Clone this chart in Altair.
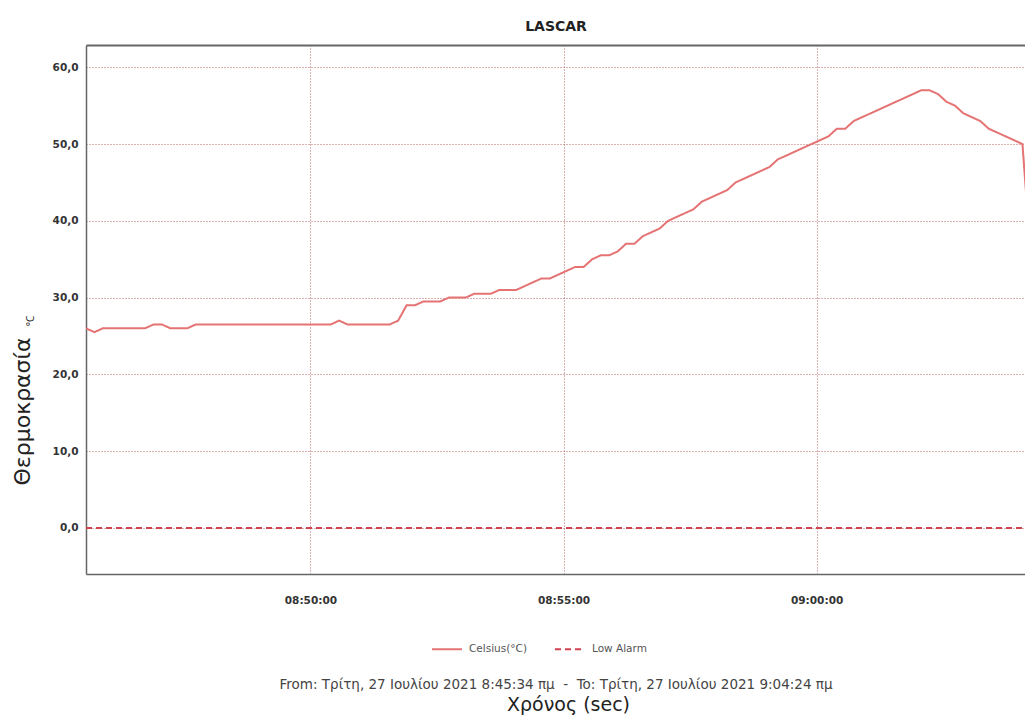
import altair as alt
import pandas as pd

# ---------------- data ----------------
day = "2021-07-27"
times = ["08:45:34", "08:45:44", "08:45:54", "08:46:44", "08:46:54", "08:47:04",
         "08:47:14", "08:47:34", "08:47:44", "08:50:24", "08:50:34", "08:50:44",
         "08:51:34", "08:51:44", "08:51:54", "08:52:04", "08:52:14", "08:52:34",
         "08:52:44", "08:53:04", "08:53:14", "08:53:34", "08:53:44", "08:54:04",
         "08:54:34", "08:54:44", "08:55:14", "08:55:24", "08:55:34", "08:55:44",
         "08:55:54", "08:56:04", "08:56:14", "08:56:24", "08:56:34", "08:56:54",
         "08:57:04", "08:57:34", "08:57:44", "08:58:14", "08:58:24", "08:59:04",
         "08:59:14", "09:00:14", "09:00:24", "09:00:34", "09:00:44", "09:02:04",
         "09:02:14", "09:02:24", "09:02:34", "09:02:44", "09:02:54", "09:03:14",
         "09:03:24", "09:04:04", "09:04:14", "09:04:24"]
celsius = [26.0, 25.5, 26.0, 26.0, 26.5, 26.5,
           26.0, 26.0, 26.5, 26.5, 27.0, 26.5,
           26.5, 27.0, 29.0, 29.0, 29.5, 29.5,
           30.0, 30.0, 30.5, 30.5, 31.0, 31.0,
           32.5, 32.5, 34.0, 34.0, 35.0, 35.5,
           35.5, 36.0, 37.0, 37.0, 38.0, 39.0,
           40.0, 41.5, 42.5, 44.0, 45.0, 47.0,
           48.0, 51.0, 52.0, 52.0, 53.0, 57.0,
           57.0, 56.5, 55.5, 55.0, 54.0, 53.0,
           52.0, 50.0, 35.0, 22.0]
alarm_times = ["08:45:34", "09:04:24"]
alarm_values = [0.0, 0.0]
series_names = ["Celsius(°C)", "Low Alarm"]
x_tick_times = ["08:50:00", "08:55:00", "09:00:00"]
y_ticks = [0, 10, 20, 30, 40, 50, 60]
x_window = ["08:45:34", "09:04:07"]   # visible part of the time axis
y_window = [-6.0, 62.9]

title_top = "LASCAR"
y_title = "Θερμοκρασία"
y_unit = "°C"
x_title = ("From: Τρίτη, 27 Ιουλίου 2021 8:45:34 πμ\u00a0\u00a0-\u00a0\u00a0"
           "To: Τρίτη, 27 Ιουλίου 2021 9:04:24 πμ")
bottom_title = "Χρόνος (sec)"


def dt(s):
    h, m, sec = (int(v) for v in s.split(":"))
    return alt.DateTime(year=2021, month=7, date=27, hours=h, minutes=m, seconds=sec)


temp_df = pd.DataFrame({"time": [f"{day}T{t}" for t in times],
                        "value": celsius, "series": series_names[0]})
alarm_df = pd.DataFrame({"time": [f"{day}T{t}" for t in alarm_times],
                         "value": alarm_values, "series": series_names[1]})
data = pd.concat([temp_df, alarm_df], ignore_index=True)

grid_color = "#b05555"
border = "#666666"
label_font = "DejaVu Sans"

legend = alt.Legend(
    title=None, orient="none", direction="horizontal", legendX=345, legendY=588,
    symbolType="stroke", symbolSize=900, symbolStrokeWidth=2,
    labelFont=label_font, labelFontSize=10.5, labelColor="#555555",
    labelOffset=6, columnPadding=24, padding=0,
)

x_axis = alt.Axis(
    values=[dt(t) for t in x_tick_times], format="%H:%M:%S",
    labelFont=label_font, labelFontWeight="bold", labelFontSize=10.5,
    labelColor="#333333", labelPadding=21, ticks=False,
    domainColor=border, domainWidth=1.5,
    grid=True, gridColor=grid_color, gridDash=[1, 2], gridOpacity=0.9,
    title=x_title, titleFont=label_font, titleFontSize=13.5,
    titleFontWeight="normal", titleColor="#444444", titlePadding=72,
)

y_axis = alt.Axis(
    values=y_ticks, labelExpr="replace(format(datum.value, '.1f'), '.', ',')",
    labelFont=label_font, labelFontWeight="bold", labelFontSize=10.5,
    labelColor="#333333", labelPadding=8, ticks=False,
    domainColor=border, domainWidth=1.5,
    grid=True, gridColor=grid_color, gridDash=[1, 2], gridOpacity=0.9,
    title=y_title, titleFont=label_font, titleFontSize=22,
    titleFontWeight="normal", titleColor="#222222", titleAngle=270,
    titleAlign="center", titleBaseline="alphabetic", titleX=-57, titleY=366,
)

lines = alt.Chart(data).mark_line(clip=True, strokeWidth=2).encode(
    x=alt.X("time:T", scale=alt.Scale(domain=[dt(x_window[0]), dt(x_window[1])]),
            axis=x_axis),
    y=alt.Y("value:Q", scale=alt.Scale(domain=y_window, nice=False, zero=False),
            axis=y_axis),
    color=alt.Color("series:N", scale=alt.Scale(domain=series_names,
                                                range=["#e57373", "#d0424f"]),
                    legend=legend),
    strokeDash=alt.StrokeDash("series:N", scale=alt.Scale(domain=series_names,
                                                          range=[[1, 0], [6, 4]]),
                              legend=legend),
)

top = alt.Chart(temp_df).mark_rule(opacity=0).encode(
    x=alt.X("time:T", axis=alt.Axis(
        orient="top", labels=False, ticks=False, grid=False,
        domainColor=border, domainWidth=2,
        title=title_top, titleFont=label_font, titleFontSize=14,
        titleFontWeight="bold", titleColor="#222222", titlePadding=12)),
)

unit = alt.Chart(pd.DataFrame({"u": [y_unit]})).mark_text(
    angle=270, fontSize=10, font="Open Sans", color="#222222",
    align="center", baseline="alphabetic",
).encode(text="u:N", x=alt.value(-52), y=alt.value(276))

chart = alt.layer(lines, top, unit).resolve_axis(x="independent").properties(
    width=939, height=529,
    autosize=alt.AutoSizeParams(type="none"),
    padding={"left": 78, "top": 37, "right": 0, "bottom": 145},
    title=alt.TitleParams(bottom_title, orient="bottom", anchor="middle", frame="group",
                          font=label_font, fontSize=19, fontWeight="normal",
                          color="#222222", offset=5, dx=13),
).configure_view(stroke=None).configure(background="white")

chart.save("out.html", embed_options={"renderer": "svg", "actions": False})
